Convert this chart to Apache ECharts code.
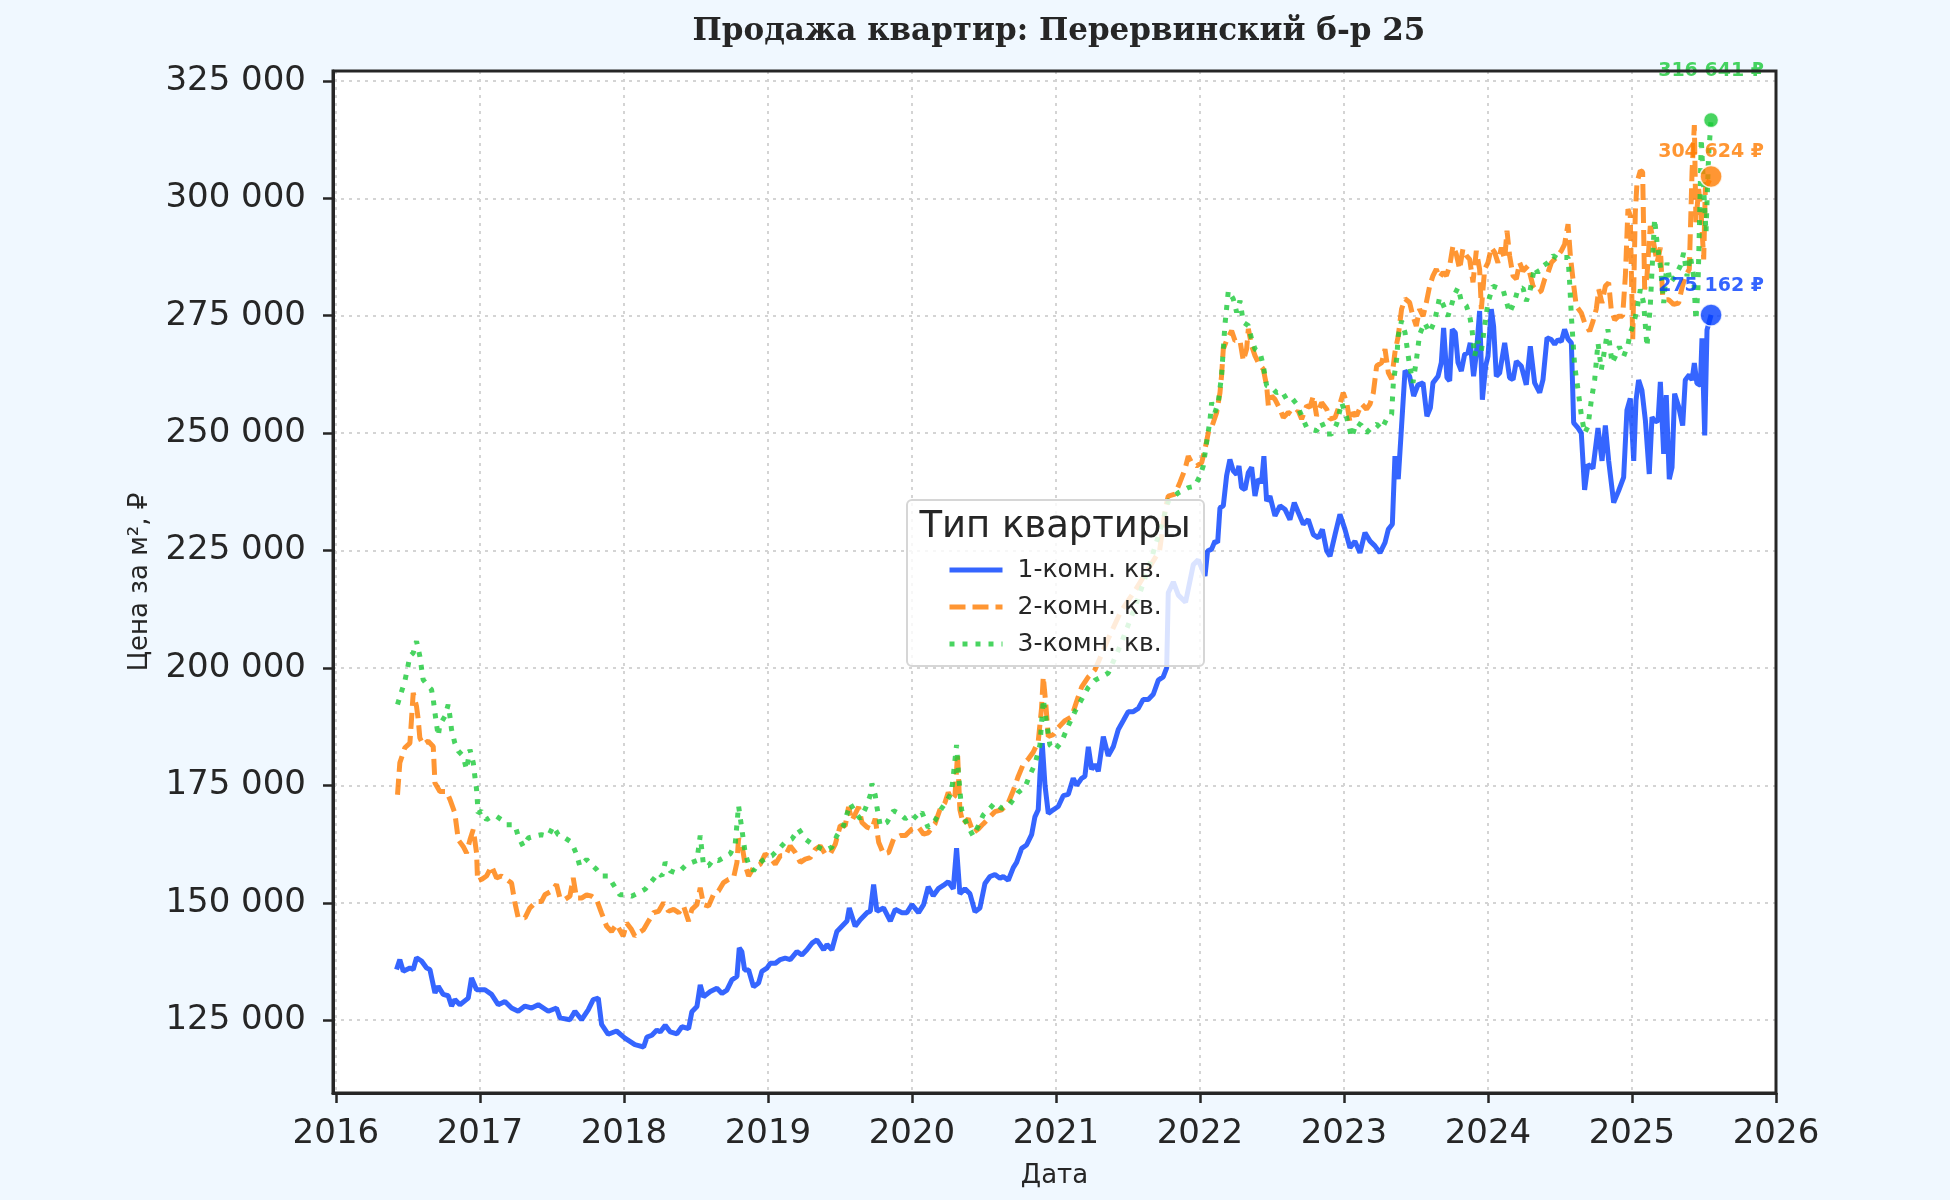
<!DOCTYPE html>
<html>
<head>
<meta charset="utf-8">
<script src="https://cdn.jsdelivr.net/npm/echarts@6/dist/echarts.min.js"></script>
<style>
  html, body { margin: 0; padding: 0; background: #f0f8ff; }
  #main_chart { width: 1950px; height: 1200px; }
</style>
</head>
<body>
<div id="main_chart"></div>
<script>
// [год, цена за м²]
var oneRoom = [
  [2016.421,135800],[2016.444,137900],[2016.468,135400],[2016.514,136100],[2016.537,135800],[2016.560,138300],[2016.595,137600],[2016.630,136100],[2016.653,135800],[2016.688,130800],[2016.711,132200],[2016.745,130500],[2016.780,130200],[2016.803,128000],[2016.826,129400],[2016.861,128300],[2016.919,129700],[2016.942,134000],[2016.977,131500],[2017.035,131500],[2017.081,130500],[2017.127,128300],[2017.174,129000],[2017.220,127600],[2017.266,126900],[2017.313,128000],[2017.359,127600],[2017.405,128300],[2017.475,126900],[2017.532,127600],[2017.556,125500],[2017.625,125100],[2017.660,126900],[2017.706,125100],[2017.752,127200],[2017.787,129400],[2017.822,129700],[2017.845,124100],[2017.891,122000],[2017.949,122700],[2018.007,121200],[2018.076,119800],
  [2018.102,119600],[2018.137,119300],[2018.160,121400],[2018.194,121800],[2018.229,122900],[2018.252,122500],[2018.287,123900],[2018.322,122500],[2018.368,122100],[2018.403,123600],[2018.449,123200],[2018.472,126800],[2018.507,127900],[2018.530,132500],[2018.553,130000],[2018.600,131100],[2018.646,131800],[2018.681,130700],[2018.715,131400],[2018.750,133600],[2018.785,134300],[2018.801,140400],[2018.819,139600],[2018.838,135700],[2018.866,135700],[2018.900,132100],[2018.935,132900],[2018.958,135400],[2018.993,136100],[2019.016,137100],[2019.051,137100],[2019.086,137900],[2019.120,138200],[2019.155,137900],[2019.201,139600],[2019.236,138900],[2019.271,140000],[2019.306,141400],[2019.340,142100],[2019.387,140000],[2019.410,141100],[2019.444,140000],[2019.479,143900],[2019.514,145000],[2019.549,146100],[2019.565,148900],[2019.606,145000],[2019.641,146400],[2019.688,147900],[2019.711,148200],[2019.734,153900],[2019.757,148200],[2019.803,148900],[2019.850,146100],[2019.884,148600],[2019.931,147900],[2019.965,147900],[2020.000,149600],[2020.046,147900],[2020.081,149600],
  [2020.113,153400],[2020.148,151500],[2020.183,153000],[2020.218,153700],[2020.252,154500],[2020.287,153000],[2020.310,161600],[2020.333,151900],[2020.368,153000],[2020.403,151900],[2020.438,148100],[2020.472,148900],[2020.507,154100],[2020.542,155600],[2020.576,156000],[2020.611,155200],[2020.634,155600],[2020.669,154800],[2020.704,157500],[2020.727,158600],[2020.762,161600],[2020.796,162300],[2020.831,164500],[2020.854,168300],[2020.877,169800],[2020.889,177200],[2020.905,184000],[2020.924,175000],[2020.947,169000],[2020.981,169800],[2021.016,170500],[2021.051,172800],[2021.086,173100],[2021.120,176500],[2021.144,175000],[2021.178,176500],[2021.201,176900],[2021.225,183200],[2021.248,178400],[2021.271,179500],[2021.294,178000],[2021.329,185400],[2021.363,181300],[2021.398,183200],[2021.433,186900],[2021.468,188800],[2021.502,190700],[2021.537,190700],[2021.572,191400],[2021.606,193300],[2021.641,193300],[2021.676,194400],[2021.711,197400],[2021.745,198100],[2021.769,200000],[2021.780,216000],[2021.815,218300],[2021.850,215500],[2021.900,214000],[2021.954,222000],[2021.988,223000],
  [2022.035,219600],[2022.053,224900],[2022.081,225300],[2022.104,227000],[2022.123,226700],[2022.139,234100],[2022.162,234500],[2022.185,240900],[2022.208,244400],[2022.231,242000],[2022.255,241200],[2022.271,243000],[2022.289,238400],[2022.313,238000],[2022.336,241600],[2022.359,242700],[2022.382,236600],[2022.405,240200],[2022.428,239500],[2022.444,245100],[2022.463,235500],[2022.486,236600],[2022.521,232400],[2022.556,234500],[2022.590,233800],[2022.625,231600],[2022.655,235200],[2022.683,233100],[2022.718,230600],[2022.752,231600],[2022.787,228400],[2022.822,227700],[2022.850,229500],[2022.880,224900],[2022.903,223800],[2022.938,228400],[2022.972,232700],[2023.007,229500],[2023.042,225600],[2023.076,227000],[2023.111,224500],[2023.146,228800],[2023.181,227000],[2023.215,226000],[2023.250,224500],[2023.285,226700],[2023.308,229500],[2023.336,230600],[2023.354,245100],[2023.377,240200],[2023.400,251500],[2023.424,263300],
  [2023.456,262100],[2023.484,257900],[2023.514,260300],[2023.549,260700],[2023.576,253600],[2023.600,255400],[2023.618,260700],[2023.653,262100],[2023.676,265000],[2023.692,272400],[2023.715,261800],[2023.734,261100],[2023.752,272100],[2023.773,271400],[2023.792,265000],[2023.815,263200],[2023.838,266800],[2023.861,267100],[2023.877,269200],[2023.900,262100],[2023.919,266800],[2023.942,276000],[2023.961,257100],[2023.984,264300],[2024.000,266400],[2024.023,276400],[2024.039,272800],[2024.058,262100],[2024.081,262800],[2024.116,269200],[2024.150,261800],[2024.174,261400],[2024.197,265300],[2024.231,264300],[2024.266,260300],[2024.294,268500],[2024.324,260700],[2024.359,258600],[2024.382,261400],[2024.410,270300],[2024.440,269900],[2024.463,268900],[2024.486,269900],[2024.509,269500],[2024.532,272100],[2024.556,270000],[2024.579,269200],[2024.595,252200],[2024.625,251100],[2024.648,250000],[2024.671,237900],[2024.694,243300],[2024.729,242500],[2024.764,251100],
  [2024.792,244100],[2024.815,251600],[2024.838,244100],[2024.873,235200],[2024.907,237700],[2024.942,240600],[2024.965,254900],[2024.988,257400],[2025.012,244100],[2025.028,257000],[2025.046,261300],[2025.069,259100],[2025.093,252700],[2025.120,241300],[2025.139,253400],[2025.162,252400],[2025.181,252700],[2025.197,260900],[2025.220,245600],[2025.238,258100],[2025.259,240200],[2025.278,242700],[2025.296,258400],[2025.324,255600],[2025.352,251600],[2025.370,261300],[2025.398,262400],[2025.417,261300],[2025.433,264900],[2025.451,260600],[2025.475,260200],[2025.486,270200],[2025.505,249500],[2025.521,272000],[2025.549,275162]
];

var twoRoom = [
  [2016.428,173000],[2016.444,179800],[2016.479,183000],[2016.514,184000],[2016.525,189000],[2016.537,194700],[2016.560,191800],[2016.572,189000],[2016.583,185100],[2016.606,183700],[2016.641,184400],[2016.676,183300],[2016.688,175500],[2016.722,173700],[2016.769,173700],[2016.792,172000],[2016.826,169100],[2016.850,163400],[2016.884,162000],[2016.907,160600],[2016.931,163400],[2016.954,165600],[2016.977,160600],[2016.984,154600],[2017.012,155000],[2017.046,155700],[2017.081,157800],[2017.116,155300],[2017.150,155700],[2017.185,155000],[2017.220,154200],[2017.243,150000],[2017.266,146800],[2017.313,146800],[2017.347,148900],[2017.394,150300],[2017.428,150300],[2017.451,151700],[2017.498,152500],[2017.532,153900],[2017.556,151000],[2017.590,150700],[2017.625,151400],[2017.648,155300],[2017.671,151000],[2017.706,151000],[2017.741,151700],[2017.775,151400],[2017.810,150700],[2017.845,147800],[2017.880,145000],[2017.914,143900],[2017.949,145400],[2017.995,142900],[2018.019,145700],[2018.053,144300],[2018.076,142900],
  [2018.102,143600],[2018.137,144300],[2018.171,146100],[2018.206,147900],[2018.241,148200],[2018.275,150000],[2018.310,148200],[2018.345,148600],[2018.380,147900],[2018.414,149300],[2018.449,146100],[2018.472,148600],[2018.507,149600],[2018.530,153200],[2018.553,149600],[2018.588,149300],[2018.623,151800],[2018.657,152500],[2018.692,154300],[2018.727,155000],[2018.762,155400],[2018.785,158600],[2018.796,163600],[2018.819,162500],[2018.843,157900],[2018.866,155700],[2018.900,157500],[2018.947,158200],[2018.981,160400],[2019.016,159600],[2019.051,158200],[2019.086,160000],[2019.120,160000],[2019.155,162100],[2019.190,160700],[2019.225,158600],[2019.259,159300],[2019.294,159600],[2019.329,161400],[2019.363,162100],[2019.398,160400],[2019.433,160400],[2019.468,162500],[2019.502,166400],[2019.537,166400],[2019.560,170400],[2019.583,167500],[2019.606,168900],[2019.630,170400],[2019.653,167100],[2019.688,166100],[2019.722,165700],[2019.745,167900],[2019.769,162900],[2019.803,160400],[2019.838,160700],[2019.873,163600],[2019.919,164300],[2019.954,164300],[2020.000,165700],[2020.046,166100],[2020.081,164600],
  [2020.113,164900],[2020.160,166800],[2020.194,169800],[2020.229,171300],[2020.252,173500],[2020.275,172000],[2020.299,172800],[2020.317,181700],[2020.333,169800],[2020.356,166800],[2020.391,167900],[2020.426,164900],[2020.461,165700],[2020.495,166800],[2020.530,167900],[2020.576,169400],[2020.623,169800],[2020.669,171300],[2020.704,173900],[2020.738,176900],[2020.773,179500],[2020.808,180600],[2020.843,182100],[2020.877,184300],[2020.900,191400],[2020.912,198100],[2020.928,192900],[2020.947,185400],[2020.981,185800],[2021.016,187300],[2021.063,188800],[2021.109,189600],[2021.144,192900],[2021.178,195900],[2021.225,198100],[2021.271,199600],[2021.360,206000],[2021.450,212000],[2021.550,216500],[2021.640,221000],[2021.720,225000],[2021.760,234000],
  [2021.780,236600],[2021.826,237000],[2021.861,239500],[2021.896,242300],[2021.919,245100],[2021.942,243700],[2021.977,243000],[2022.012,243700],[2022.035,246600],[2022.058,250100],[2022.081,251200],[2022.116,254400],[2022.139,258600],[2022.150,262200],[2022.162,267900],[2022.185,269700],[2022.220,271800],[2022.243,269700],[2022.278,269700],[2022.301,265400],[2022.324,267900],[2022.336,272200],[2022.359,268600],[2022.382,266500],[2022.405,265000],[2022.440,263600],[2022.463,260100],[2022.475,255800],[2022.498,257900],[2022.521,257200],[2022.556,255100],[2022.579,253300],[2022.613,254400],[2022.648,253700],[2022.683,254700],[2022.706,253000],[2022.741,255800],[2022.764,255500],[2022.787,257900],[2022.810,253700],[2022.845,256500],[2022.880,255100],[2022.903,253000],[2022.938,253300],[2022.972,256200],[2022.995,258600],[2023.019,256500],[2023.042,252300],[2023.065,254400],[2023.088,253700],[2023.123,256200],[2023.157,255100],[2023.181,256200],[2023.204,258600],[2023.227,264300],[2023.262,265000],[2023.285,267900],[2023.308,262900],[2023.331,261500],[2023.354,267200],[2023.377,270700],[2023.400,276400],[2023.424,278600],
  [2023.456,277800],[2023.479,274900],[2023.502,272800],[2023.525,276400],[2023.549,274900],[2023.572,277800],[2023.595,281300],[2023.618,283500],[2023.641,284900],[2023.664,283100],[2023.688,284200],[2023.711,283500],[2023.734,285600],[2023.757,289900],[2023.780,288100],[2023.803,284900],[2023.826,289200],[2023.850,287800],[2023.873,287000],[2023.896,282100],[2023.919,288800],[2023.942,284900],[2023.954,276400],[2023.977,284900],[2024.000,286300],[2024.023,289500],[2024.046,288500],[2024.069,286300],[2024.093,289500],[2024.116,287000],[2024.132,293100],[2024.150,287800],[2024.174,283500],[2024.197,282800],[2024.220,286300],[2024.243,284500],[2024.278,285600],[2024.313,281300],[2024.347,279900],[2024.370,280300],[2024.394,282800],[2024.417,284200],[2024.440,286300],[2024.475,287400],[2024.509,288800],[2024.532,290200],[2024.556,294500],[2024.572,287800],[2024.590,282800],[2024.613,277100],[2024.648,275600],[2024.671,273500],[2024.706,271700],[2024.729,273800],[2024.752,276400],
  [2024.769,280600],[2024.792,277700],[2024.815,281300],[2024.838,282000],[2024.856,276300],[2024.880,274100],[2024.907,274900],[2024.935,274900],[2024.954,283400],[2024.972,297700],[2024.988,296300],[2025.005,269900],[2025.023,297000],[2025.035,303400],[2025.058,305900],[2025.074,305600],[2025.088,280600],[2025.104,283400],[2025.127,294100],[2025.150,290600],[2025.174,286300],[2025.197,289500],[2025.213,279100],[2025.231,278400],[2025.255,278400],[2025.289,277400],[2025.324,277700],[2025.347,280900],[2025.370,283400],[2025.398,284900],[2025.417,305600],[2025.433,315600],[2025.444,294900],[2025.463,302000],[2025.481,296300],[2025.498,287000],[2025.509,302000],[2025.549,304624]
];

var threeRoom = [
  [2016.428,192200],[2016.456,195000],[2016.479,197200],[2016.498,200000],[2016.514,202500],[2016.537,203200],[2016.560,205700],[2016.583,202500],[2016.606,197500],[2016.641,196100],[2016.664,195400],[2016.676,193300],[2016.699,187900],[2016.711,185500],[2016.722,187900],[2016.757,189700],[2016.780,192200],[2016.792,189700],[2016.803,186900],[2016.826,184000],[2016.850,182300],[2016.884,181200],[2016.907,178400],[2016.931,182600],[2016.954,179800],[2016.965,176900],[2016.977,174100],[2016.988,169100],[2017.012,169500],[2017.046,167700],[2017.081,168400],[2017.116,168400],[2017.150,167700],[2017.185,166600],[2017.243,166600],[2017.266,164200],[2017.301,162000],[2017.336,163800],[2017.382,164200],[2017.428,164500],[2017.475,164200],[2017.509,166300],[2017.544,164500],[2017.590,163800],[2017.625,163100],[2017.648,162000],[2017.671,160300],[2017.694,157800],[2017.741,159200],[2017.775,158100],[2017.810,157100],[2017.845,155700],[2017.891,155700],[2017.926,153900],[2017.972,151700],[2018.019,151700],[2018.053,151400],
  [2018.102,152100],[2018.148,152900],[2018.194,154600],[2018.241,156400],[2018.264,155700],[2018.287,158600],[2018.322,156800],[2018.356,156400],[2018.391,156800],[2018.426,157900],[2018.472,158600],[2018.507,159000],[2018.530,164300],[2018.553,157900],[2018.588,157900],[2018.623,159300],[2018.657,159000],[2018.692,159600],[2018.738,160400],[2018.773,162500],[2018.796,170700],[2018.819,165700],[2018.843,160400],[2018.866,158200],[2018.900,156800],[2018.924,157900],[2018.958,158900],[2018.993,159600],[2019.028,160000],[2019.074,161400],[2019.120,162900],[2019.167,163600],[2019.213,165700],[2019.259,163600],[2019.306,162500],[2019.352,161800],[2019.398,161100],[2019.444,161800],[2019.479,164300],[2019.525,166400],[2019.549,168900],[2019.572,171100],[2019.606,169300],[2019.641,167900],[2019.676,170000],[2019.711,172900],[2019.722,175400],[2019.745,172900],[2019.757,170400],[2019.780,166400],[2019.826,167100],[2019.873,169600],[2019.919,168900],[2019.954,167900],[2020.000,168900],[2020.035,167900],[2020.069,169300],
  [2020.113,166000],[2020.160,167500],[2020.206,170100],[2020.241,171600],[2020.275,173500],[2020.310,183600],[2020.322,178000],[2020.345,169800],[2020.380,166800],[2020.426,164200],[2020.461,166400],[2020.495,168700],[2020.542,170100],[2020.576,171300],[2020.623,170100],[2020.669,170500],[2020.704,172000],[2020.738,173500],[2020.785,174600],[2020.819,177200],[2020.854,179500],[2020.889,183600],[2020.912,193300],[2020.935,188400],[2020.958,183600],[2020.993,182500],[2021.039,184300],[2021.086,187700],[2021.132,190700],[2021.178,193300],[2021.225,195900],[2021.271,197400],[2021.317,198100],[2021.363,198900],[2021.450,205000],[2021.550,213000],[2021.650,222000],[2021.720,229000],
  [2021.780,235500],[2021.850,237300],[2021.919,238400],[2021.965,238700],[2022.000,240900],[2022.023,243000],[2022.046,248000],[2022.069,252600],[2022.081,256500],[2022.104,254400],[2022.127,256500],[2022.150,262200],[2022.162,267900],[2022.174,273200],[2022.197,280300],[2022.231,278600],[2022.255,275700],[2022.278,278200],[2022.301,273600],[2022.336,272900],[2022.359,270000],[2022.382,267900],[2022.417,267200],[2022.440,264300],[2022.463,260100],[2022.498,259700],[2022.532,258600],[2022.567,259000],[2022.602,257200],[2022.637,257500],[2022.671,256200],[2022.706,253700],[2022.741,251200],[2022.775,250800],[2022.810,250500],[2022.845,252300],[2022.880,249800],[2022.914,249800],[2022.949,251900],[2022.984,256500],[2023.019,253300],[2023.053,249100],[2023.088,252300],[2023.123,251600],[2023.157,250100],[2023.192,251200],[2023.227,251900],[2023.262,250800],[2023.296,253000],[2023.331,254000],[2023.343,260800],[2023.366,265800],[2023.377,270700],[2023.400,273900],[2023.424,271400],
  [2023.456,264300],[2023.479,260700],[2023.502,265300],[2023.525,271000],[2023.560,273500],[2023.595,271400],[2023.630,273900],[2023.664,278900],[2023.688,277400],[2023.722,274900],[2023.745,277100],[2023.769,279600],[2023.792,281000],[2023.815,278100],[2023.850,277100],[2023.873,274900],[2023.889,272100],[2023.907,266400],[2023.931,269600],[2023.954,267500],[2023.977,272800],[2024.000,277800],[2024.035,281300],[2024.069,280900],[2024.104,280600],[2024.127,278100],[2024.150,275600],[2024.185,278100],[2024.208,280600],[2024.243,280900],[2024.266,278100],[2024.289,279900],[2024.324,285300],[2024.347,284200],[2024.382,285600],[2024.417,286300],[2024.451,287800],[2024.486,287100],[2024.521,287400],[2024.556,287400],[2024.567,282100],[2024.579,274900],[2024.602,264300],[2024.625,259300],[2024.648,253900],[2024.671,250000],[2024.694,251400],[2024.718,257100],[2024.741,261400],[2024.764,269200],[2024.787,263500],[2024.810,267800],[2024.833,272100],
  [2024.861,264900],[2024.884,266300],[2024.912,268400],[2024.942,266300],[2024.972,268800],[2024.988,271300],[2025.012,273400],[2025.035,276300],[2025.058,280600],[2025.081,277700],[2025.104,268400],[2025.127,277000],[2025.144,287700],[2025.157,295600],[2025.174,290600],[2025.197,285600],[2025.220,277700],[2025.243,286300],[2025.266,282000],[2025.301,283400],[2025.336,285600],[2025.359,288400],[2025.382,283400],[2025.405,287700],[2025.428,283400],[2025.444,274100],[2025.458,280600],[2025.470,296300],[2025.481,312700],[2025.498,302000],[2025.514,292700],[2025.532,309100],[2025.549,316641]
];

var seriesNames = ['1-комн. кв.', '2-комн. кв.', '3-комн. кв.'];
var yTicks = [125000, 150000, 175000, 200000, 225000, 250000, 275000, 300000, 325000];
var xTicks = [2016, 2017, 2018, 2019, 2020, 2021, 2022, 2023, 2024, 2025, 2026];

var fullColors = ['#023eff', '#ff7c00', '#1ac938'];
var lineColors = ['rgba(2,62,255,0.8)', 'rgba(255,124,0,0.8)', 'rgba(26,201,56,0.8)'];
var dashTypes = ['solid', [16, 7], [5, 8]];
var markerSizes = [22, 22, 15];
var labelGaps = [8, 3, 31];

function fmtNum(v) {
  return String(Math.round(v)).replace(/\B(?=(\d{3})+(?!\d))/g, ' ');
}

var myChart = echarts.init(document.getElementById('main_chart'));

var allData = [oneRoom, twoRoom, threeRoom];
var series = [];
allData.forEach(function (d, i) {
  series.push({
    name: seriesNames[i],
    type: 'line',
    data: d,
    showSymbol: false,
    symbol: 'none',
    z: 3 + i,
    lineStyle: { color: lineColors[i], width: 5, type: dashTypes[i], cap: 'butt' },
    itemStyle: { color: lineColors[i] }
  });
});
// последняя точка с подписью
allData.forEach(function (d, i) {
  var last = d[d.length - 1];
  series.push({
    name: 'last' + i,
    type: 'scatter',
    data: [last],
    symbolSize: markerSizes[i],
    z: 10,
    itemStyle: { color: fullColors[i], borderColor: '#ffffff', borderWidth: 1.5 },
    label: {
      show: true,
      position: 'top',
      distance: labelGaps[i],
      formatter: function (p) { return fmtNum(p.value[1]) + ' ₽'; },
      color: fullColors[i],
      fontFamily: 'DejaVu Sans',
      fontWeight: 'bold',
      fontSize: 19
    }
  });
});

var option = {
  backgroundColor: '#f0f8ff',
  animation: false,
  title: {
    text: 'Продажа квартир: Перервинский б-р 25',
    left: 1054,
    textAlign: 'center',
    top: 11,
    textStyle: { fontFamily: 'DejaVu Serif', fontWeight: 'bold', fontSize: 31, color: '#262626' }
  },
  grid: {
    left: 333, right: 174, top: 71, bottom: 107,
    show: true,
    backgroundColor: '#ffffff',
    borderWidth: 0
  },
  xAxis: {
    type: 'value',
    min: 2015.98,
    max: 2026.0,
    name: 'Дата',
    nameLocation: 'middle',
    nameGap: 70,
    nameTextStyle: { fontFamily: 'DejaVu Sans', fontSize: 26, color: '#262626' },
    axisLine: { lineStyle: { color: '#262626', width: 3 } },
    axisTick: { show: true, customValues: xTicks, length: 10, lineStyle: { color: '#262626', width: 2.5 } },
    axisLabel: {
      customValues: xTicks,
      margin: 24,
      fontFamily: 'DejaVu Sans', fontSize: 34, color: '#262626',
      formatter: function (v) { return String(Math.round(v)); }
    },
    splitLine: { show: true, lineStyle: { color: '#d4d4d4', width: 2, type: [3, 5] } }
  },
  yAxis: {
    type: 'value',
    min: 109500,
    max: 327100,
    name: 'Цена за м², ₽',
    nameLocation: 'middle',
    nameGap: 180,
    nameTextStyle: { fontFamily: 'DejaVu Sans', fontSize: 26, color: '#262626' },
    axisLine: { show: true, lineStyle: { color: '#262626', width: 3 } },
    axisTick: { show: true, customValues: yTicks, length: 10, lineStyle: { color: '#262626', width: 2.5 } },
    axisLabel: {
      customValues: yTicks,
      margin: 27,
      fontFamily: 'DejaVu Sans', fontSize: 34, color: '#262626',
      formatter: function (v) { return fmtNum(v); }
    },
    splitLine: { show: true, lineStyle: { color: '#d4d4d4', width: 2, type: [3, 5] } }
  },
  legend: {
    data: seriesNames,
    orient: 'vertical',
    left: 947,
    top: 557,
    padding: 0,
    itemWidth: 53,
    itemHeight: 14,
    itemGap: 11,
    z: 110,
    itemStyle: { opacity: 0, borderWidth: 0 },
    lineStyle: { width: 5 },
    textStyle: { fontFamily: 'DejaVu Sans', fontSize: 25, lineHeight: 26, color: '#262626', padding: [0, 0, 0, 10] }
  },
  graphic: [
    {
      // рамка области построения
      type: 'rect',
      z: 50,
      silent: true,
      shape: { x: 333, y: 71, width: 1443, height: 1022 },
      style: { fill: null, stroke: '#262626', lineWidth: 3 }
    },
    {
      type: 'rect',
      z: 100,
      shape: { x: 907, y: 500, width: 297, height: 166, r: 5 },
      style: { fill: 'rgba(255,255,255,0.82)', stroke: '#d6d6d6', lineWidth: 2 }
    },
    {
      type: 'text',
      z: 101,
      x: 1055,
      y: 527,
      style: {
        text: 'Тип квартиры',
        fontFamily: 'DejaVu Sans',
        fontSize: 37,
        fill: '#262626',
        textAlign: 'center',
        textVerticalAlign: 'middle'
      }
    }
  ],
  series: series
};

myChart.setOption(option);
</script>
</body>
</html>
